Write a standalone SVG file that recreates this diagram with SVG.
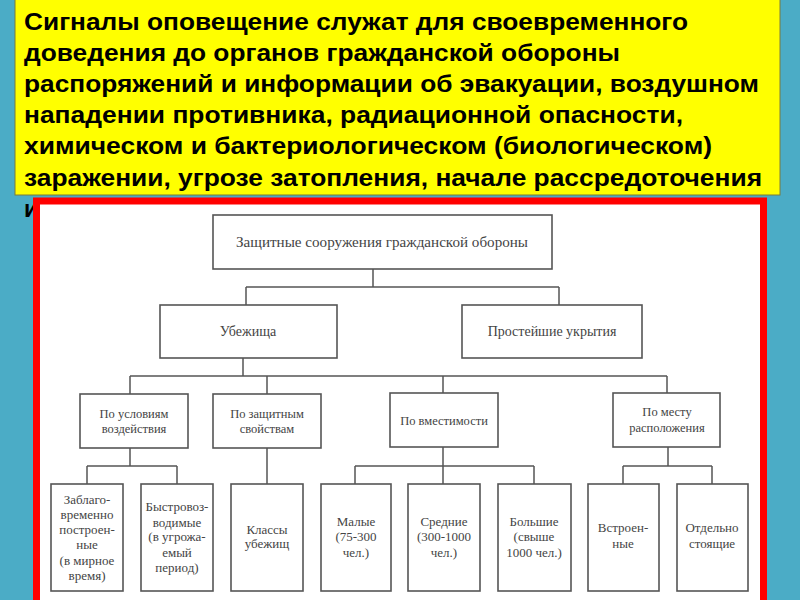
<svg xmlns="http://www.w3.org/2000/svg" width="800" height="600" viewBox="0 0 800 600">
<style>
.hd{font-family:"Liberation Sans",Arial,sans-serif;font-weight:bold;font-size:23.5px;fill:#000}
.bx{fill:#fff;stroke:#555;stroke-width:1.6}
.t{font-family:"Liberation Serif","Times New Roman",serif;font-size:12.5px;fill:#444;text-anchor:middle}
.t4{font-family:"Liberation Serif","Times New Roman",serif;font-size:13px;fill:#444;text-anchor:middle}
.tl{font-family:"Liberation Serif","Times New Roman",serif;font-size:14px;fill:#444;text-anchor:middle}
.c{fill:none;stroke:#555;stroke-width:1.5}
</style>
<rect x="0" y="0" width="800" height="600" fill="#4BACC6"/>
<rect x="15" y="-2" width="765" height="197" fill="#FFFF00" stroke="#7a7a3a" stroke-width="1"/>
<g id="heading">
<text class="hd" x="24" y="30" textLength="664" lengthAdjust="spacingAndGlyphs">Сигналы оповещение служат для своевременного</text>
<text class="hd" x="24" y="61" textLength="596" lengthAdjust="spacingAndGlyphs">доведения до органов гражданской обороны</text>
<text class="hd" x="24" y="92" textLength="735" lengthAdjust="spacingAndGlyphs">распоряжений и информации об эвакуации, воздушном</text>
<text class="hd" x="24" y="123" textLength="659" lengthAdjust="spacingAndGlyphs">нападении противника, радиационной опасности,</text>
<text class="hd" x="24" y="154" textLength="688" lengthAdjust="spacingAndGlyphs">химическом и бактериологическом (биологическом)</text>
<text class="hd" x="24" y="186" textLength="738" lengthAdjust="spacingAndGlyphs">заражении, угрозе затопления, начале рассредоточения</text>
<text class="hd" x="24" y="217">и</text>
</g>
<rect x="36.5" y="201" width="727" height="420" fill="#fff" stroke="#FF0000" stroke-width="7"/>
<g id="connectors">
<path class="c" d="M373 269V287M246 287H559M246 287V305M559 287V305"/>
<path class="c" d="M243 358V376M130 376H667M130 376V394M267 376V394M443 376V393M667 376V393"/>
<path class="c" d="M130 448V466M87 466H177M87 466V484M177 466V484"/>
<path class="c" d="M267 448V484"/>
<path class="c" d="M443 447V484M355 466H534M355 466V484M534 466V484"/>
<path class="c" d="M668 447V466M623 466H712M623 466V484M712 466V484"/>
</g>
<g id="root"><rect class="bx" x="213" y="215" width="339" height="54"/><text class="tl" x="382" y="247" textLength="292" lengthAdjust="spacingAndGlyphs">Защитные сооружения гражданской обороны</text></g>
<g id="shelters"><rect class="bx" x="160" y="305" width="177" height="53"/><text class="tl" x="248" y="336">Убежища</text></g>
<g id="simple"><rect class="bx" x="462" y="305" width="180" height="53"/><text class="tl" x="552" y="336">Простейшие укрытия</text></g>
<g id="cond"><rect class="bx" x="80" y="394" width="108" height="54"/><text class="t" x="134" y="418">По условиям</text><text class="t" x="134" y="433">воздействия</text></g>
<g id="prot"><rect class="bx" x="213" y="394" width="108" height="54"/><text class="t" x="267" y="418">По защитным</text><text class="t" x="267" y="433">свойствам</text></g>
<g id="cap"><rect class="bx" x="390" y="393" width="108" height="54"/><text class="t" x="444" y="425">По вместимости</text></g>
<g id="place"><rect class="bx" x="613" y="393" width="107" height="54"/><text class="t" x="667" y="416">По месту</text><text class="t" x="667" y="432">расположения</text></g>
<g id="n1"><rect class="bx" x="51" y="484" width="72" height="107"/><text class="t4" x="87" y="504">Заблаго-</text><text class="t4" x="87" y="519">временно</text><text class="t4" x="87" y="534">построен-</text><text class="t4" x="87" y="549">ные</text><text class="t4" x="87" y="565">(в мирное</text><text class="t4" x="87" y="580">время)</text></g>
<g id="n2"><rect class="bx" x="141" y="484" width="72" height="107"/><text class="t4" x="177" y="511">Быстровоз-</text><text class="t4" x="177" y="527">водимые</text><text class="t4" x="177" y="541">(в угрожа-</text><text class="t4" x="177" y="557">емый</text><text class="t4" x="177" y="572">период)</text></g>
<g id="n3"><rect class="bx" x="231" y="484" width="72" height="107"/><text class="t4" x="267" y="534">Классы</text><text class="t4" x="267" y="548">убежищ</text></g>
<g id="n4"><rect class="bx" x="321" y="484" width="70" height="107"/><text class="t4" x="356" y="526">Малые</text><text class="t4" x="356" y="541">(75-300</text><text class="t4" x="356" y="557">чел.)</text></g>
<g id="n5"><rect class="bx" x="408" y="484" width="72" height="107"/><text class="t4" x="444" y="526">Средние</text><text class="t4" x="444" y="541">(300-1000</text><text class="t4" x="444" y="557">чел.)</text></g>
<g id="n6"><rect class="bx" x="498" y="484" width="73" height="107"/><text class="t4" x="534" y="526">Большие</text><text class="t4" x="534" y="541">(свыше</text><text class="t4" x="534" y="557">1000 чел.)</text></g>
<g id="n7"><rect class="bx" x="588" y="484" width="71" height="107"/><text class="t4" x="623" y="532">Встроен-</text><text class="t4" x="623" y="548">ные</text></g>
<g id="n8"><rect class="bx" x="677" y="484" width="71" height="107"/><text class="t4" x="712" y="532">Отдельно</text><text class="t4" x="712" y="548">стоящие</text></g>
</svg>
